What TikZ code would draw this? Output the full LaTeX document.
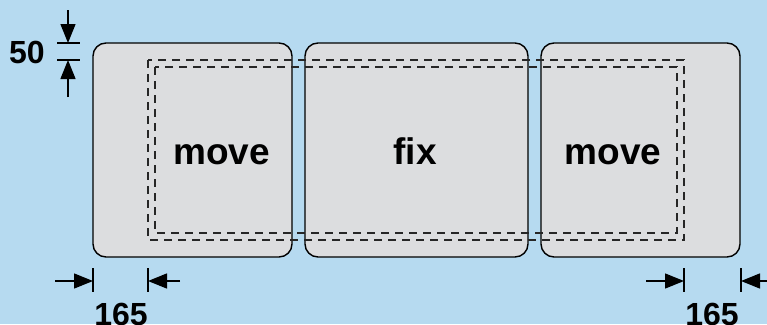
\documentclass[tikz,border=0pt]{standalone}
\usepackage{fontspec}
\setmainfont{Liberation Sans}
\usetikzlibrary{arrows.meta}
\definecolor{bg}{RGB}{182,218,240}
\definecolor{boxfill}{RGB}{220,221,223}
\begin{document}
\begin{tikzpicture}[x=1pt,y=-1pt,
  panel/.style={draw=black, line width=1.4pt, fill=boxfill, rounded corners=13pt, shape=rectangle, anchor=north west, inner sep=0pt, outer sep=0pt},
  dashframe/.style={draw=black!85, line width=1.1pt, dash pattern=on 8pt off 6pt},
  dimline/.style={line width=1.4pt},
  dimarrow/.style={line width=1.4pt, -{Triangle[length=19pt,width=15pt]}},
  lbl/.style={font=\fontsize{37}{40}\selectfont\bfseries, inner sep=0pt, anchor=base},
  dimlbl/.style={font=\fontsize{32}{36}\selectfont\bfseries, inner sep=0pt, anchor=base}]
\fill[bg] (0,0) rectangle (767,324);
\useasboundingbox (0,0) rectangle (767,324);
% panels
\node[panel, minimum width=199pt, minimum height=214pt] (p1) at (93,43) {};
\node[panel, minimum width=223pt, minimum height=214pt] (p2) at (305,43) {};
\node[panel, minimum width=199pt, minimum height=214pt] (p3) at (541,43) {};
% dashed frames
\draw[dashframe] (148,60) rectangle (684,240);
\draw[dashframe] (155,67) rectangle (677,233);
% texts
\node[lbl] (m1) at (221.5,164) {move};
\node[lbl] (fx) at (415,164) {fix};
\node[lbl] (m2) at (613,164) {move};
% 50 dimension
\coordinate (a1) at (57,43); \coordinate (a2) at (80,43);
\coordinate (b1) at (57,60); \coordinate (b2) at (80,60);
\coordinate (va) at (68,10); \coordinate (vat) at (68,43);
\coordinate (vb) at (68,97); \coordinate (vbt) at (68,60);
\draw[dimline] (a1) -- (a2);
\draw[dimline] (b1) -- (b2);
\draw[dimarrow] (va) -- (vat);
\draw[dimarrow] (vb) -- (vbt);
\node[dimlbl] (n50) at (27,63) {50};
% 165 left
\coordinate (l1t) at (93,268); \coordinate (l1b) at (93,292);
\coordinate (l2t) at (148,268); \coordinate (l2b) at (148,292);
\coordinate (la) at (55,281); \coordinate (lat) at (93,281);
\coordinate (lb) at (180,281); \coordinate (lbt) at (148,281);
\draw[dimline] (l1t) -- (l1b);
\draw[dimline] (l2t) -- (l2b);
\draw[dimarrow] (la) -- (lat);
\draw[dimarrow] (lb) -- (lbt);
\node[dimlbl] (n165a) at (121,325) {165};
% 165 right
\coordinate (r1t) at (684,268); \coordinate (r1b) at (684,292);
\coordinate (r2t) at (741,268); \coordinate (r2b) at (741,292);
\coordinate (ra) at (646,281); \coordinate (rat) at (684,281);
\coordinate (rb) at (768,281); \coordinate (rbt) at (741,281);
\draw[dimline] (r1t) -- (r1b);
\draw[dimline] (r2t) -- (r2b);
\draw[dimarrow] (ra) -- (rat);
\draw[dimarrow] (rb) -- (rbt);
\node[dimlbl] (n165b) at (712,325) {165};
\end{tikzpicture}
\end{document}
